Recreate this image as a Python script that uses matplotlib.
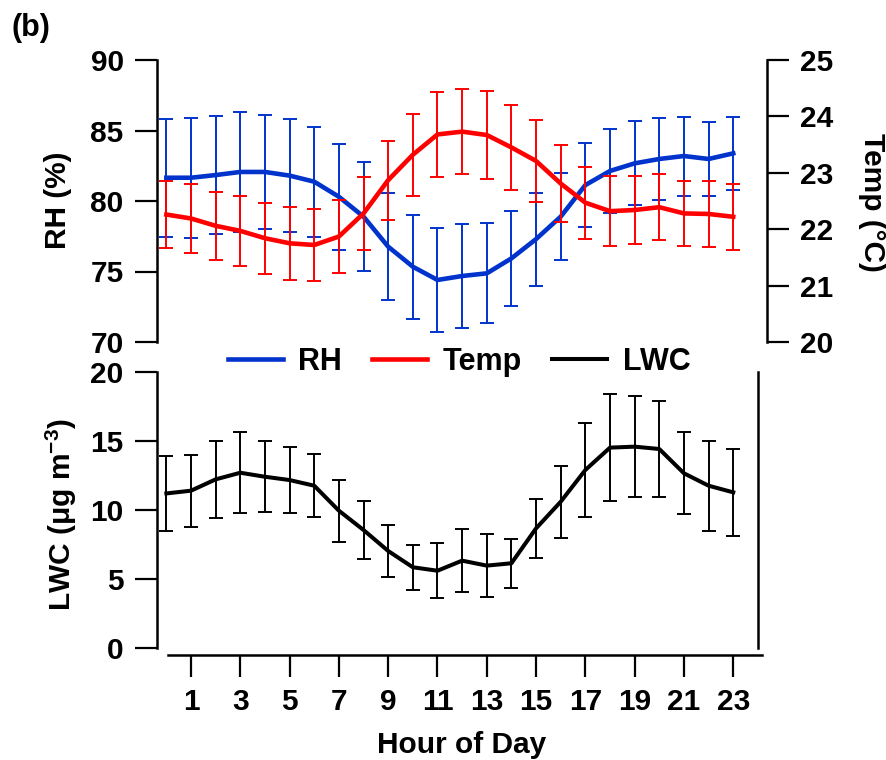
import matplotlib
matplotlib.use("Agg")
import matplotlib.pyplot as plt

plt.rcParams['font.family'] = ['Liberation Sans', 'DejaVu Sans']
plt.rcParams['font.weight'] = 'bold'
plt.rcParams['mathtext.fontset'] = 'custom'
plt.rcParams['mathtext.rm'] = 'Liberation Sans:bold'
plt.rcParams['mathtext.default'] = 'rm'

# diurnal means and std devs
hours = list(range(24))
rh = [81.65, 81.65, 81.84, 82.06, 82.06, 81.8, 81.37, 80.3, 78.89, 76.76, 75.34, 74.4,
      74.68, 74.87, 75.93, 77.3, 78.89, 81.13, 82.13, 82.67, 82.98, 83.19, 82.98, 83.38]
rh_err = [4.2, 4.25, 4.2, 4.23, 4.05, 4.0, 3.9, 3.75, 3.85, 3.8, 3.7, 3.7,
          3.7, 3.55, 3.35, 3.3, 3.1, 3.0, 2.96, 2.97, 2.9, 2.8, 2.6, 2.6]
temp = [22.26, 22.19, 22.06, 21.97, 21.84, 21.75, 21.72, 21.87, 22.28, 22.87, 23.32, 23.68,
        23.73, 23.67, 23.45, 23.21, 22.81, 22.47, 22.32, 22.34, 22.39, 22.28, 22.27, 22.22]
temp_err = [0.59, 0.61, 0.6, 0.62, 0.63, 0.65, 0.63, 0.64, 0.64, 0.7, 0.73, 0.75,
            0.76, 0.78, 0.76, 0.73, 0.68, 0.64, 0.62, 0.6, 0.58, 0.58, 0.59, 0.58]
lwc = [11.2, 11.4, 12.22, 12.7, 12.41, 12.17, 11.76, 9.95, 8.55, 7.03, 5.85, 5.6,
       6.33, 5.97, 6.14, 8.67, 10.6, 12.9, 14.52, 14.59, 14.42, 12.66, 11.76, 11.28]
lwc_err = [2.7, 2.6, 2.78, 2.92, 2.56, 2.4, 2.3, 2.25, 2.07, 1.85, 1.65, 2.0,
           2.3, 2.3, 1.78, 2.16, 2.6, 3.4, 3.86, 3.65, 3.5, 2.96, 3.26, 3.14]
xticks = [1, 3, 5, 7, 9, 11, 13, 15, 17, 19, 21, 23]

blue = '#0033cc'
red = '#ff0000'
tick_kw = dict(direction='out', length=16, width=1.6, labelsize=21.5, pad=8)

fig = plt.figure(figsize=(8.87, 7.6), dpi=100)
ax_top = fig.add_axes([157/887, 1-342/760, 610/887, 282/760])
ax_temp = ax_top.twinx()
ax_bot = fig.add_axes([157/887, 1-648/760, 610/887, 276/760])

xlim = (-0.38, 24.37)

# top panel: RH and Temp
rh_c = ax_top.errorbar(hours, rh, yerr=rh_err, color=blue, lw=3.3, elinewidth=1.4,
                       capsize=4.7, capthick=1.4)
t_c = ax_temp.errorbar(hours, temp, yerr=temp_err, color=red, lw=3.3, elinewidth=1.4,
                       capsize=4.7, capthick=1.4)
ax_top.set_xlim(xlim)
ax_top.set_ylim(70, 90)
ax_temp.set_ylim(20, 25)
ax_top.set_yticks([70, 75, 80, 85, 90])
ax_temp.set_yticks([20, 21, 22, 23, 24, 25])
ax_top.set_xticks([])
for s in ['top', 'bottom', 'right']:
    ax_top.spines[s].set_visible(False)
for s in ['top', 'bottom', 'left']:
    ax_temp.spines[s].set_visible(False)
ax_top.spines['left'].set_linewidth(1.8)
ax_temp.spines['right'].set_linewidth(1.8)
ax_top.tick_params(axis='y', **tick_kw)
ax_temp.tick_params(axis='y', **tick_kw)
ax_top.patch.set_visible(False)

# bottom panel: LWC
lwc_c = ax_bot.errorbar(hours, lwc, yerr=lwc_err, color='black', lw=2.9, elinewidth=1.4,
                        capsize=4.7, capthick=1.4)
ax_bot.set_xlim(xlim)
ax_bot.set_ylim(0, 20)
ax_bot.set_yticks([0, 5, 10, 15, 20])
ax_bot.set_xticks(xticks)
ax_bot.spines['top'].set_visible(False)
ax_bot.spines['right'].set_position(('data', 24))
ax_bot.spines['bottom'].set_position(('outward', 5))
ax_bot.spines['bottom'].set_bounds(0.05, 24.15)
for s in ['left', 'right', 'bottom']:
    ax_bot.spines[s].set_linewidth(1.8)
ax_bot.tick_params(axis='y', **tick_kw)
ax_bot.tick_params(axis='x', direction='out', length=16, width=1.6, labelsize=21.5, pad=8)

# labels
fig.text(58/887, 1-200/760, 'RH (%)', rotation=90, ha='center', va='center', fontsize=21.5)
fig.text(872/887, 1-202/760, 'Temp (°C)', rotation=270, ha='center', va='center', fontsize=21.5)
fig.text(61/887, 1-515/760, 'LWC (μg m$^{-3}$)', rotation=90, ha='center', va='center', fontsize=21.5)
fig.text(462/887, 1-745/760, 'Hour of Day', ha='center', va='center', fontsize=21.5)
fig.text(31/887, 1-28/760, '(b)', ha='center', va='center', fontsize=22)

fig.legend([rh_c[0], t_c[0], lwc_c[0]], ['RH', 'Temp', 'LWC'], ncol=3, frameon=False,
           loc='center', bbox_to_anchor=(459/887, 1-362/760), fontsize=22,
           handlelength=1.8, handletextpad=0.5, columnspacing=1.0)

fig.savefig('out.png', dpi=100)
